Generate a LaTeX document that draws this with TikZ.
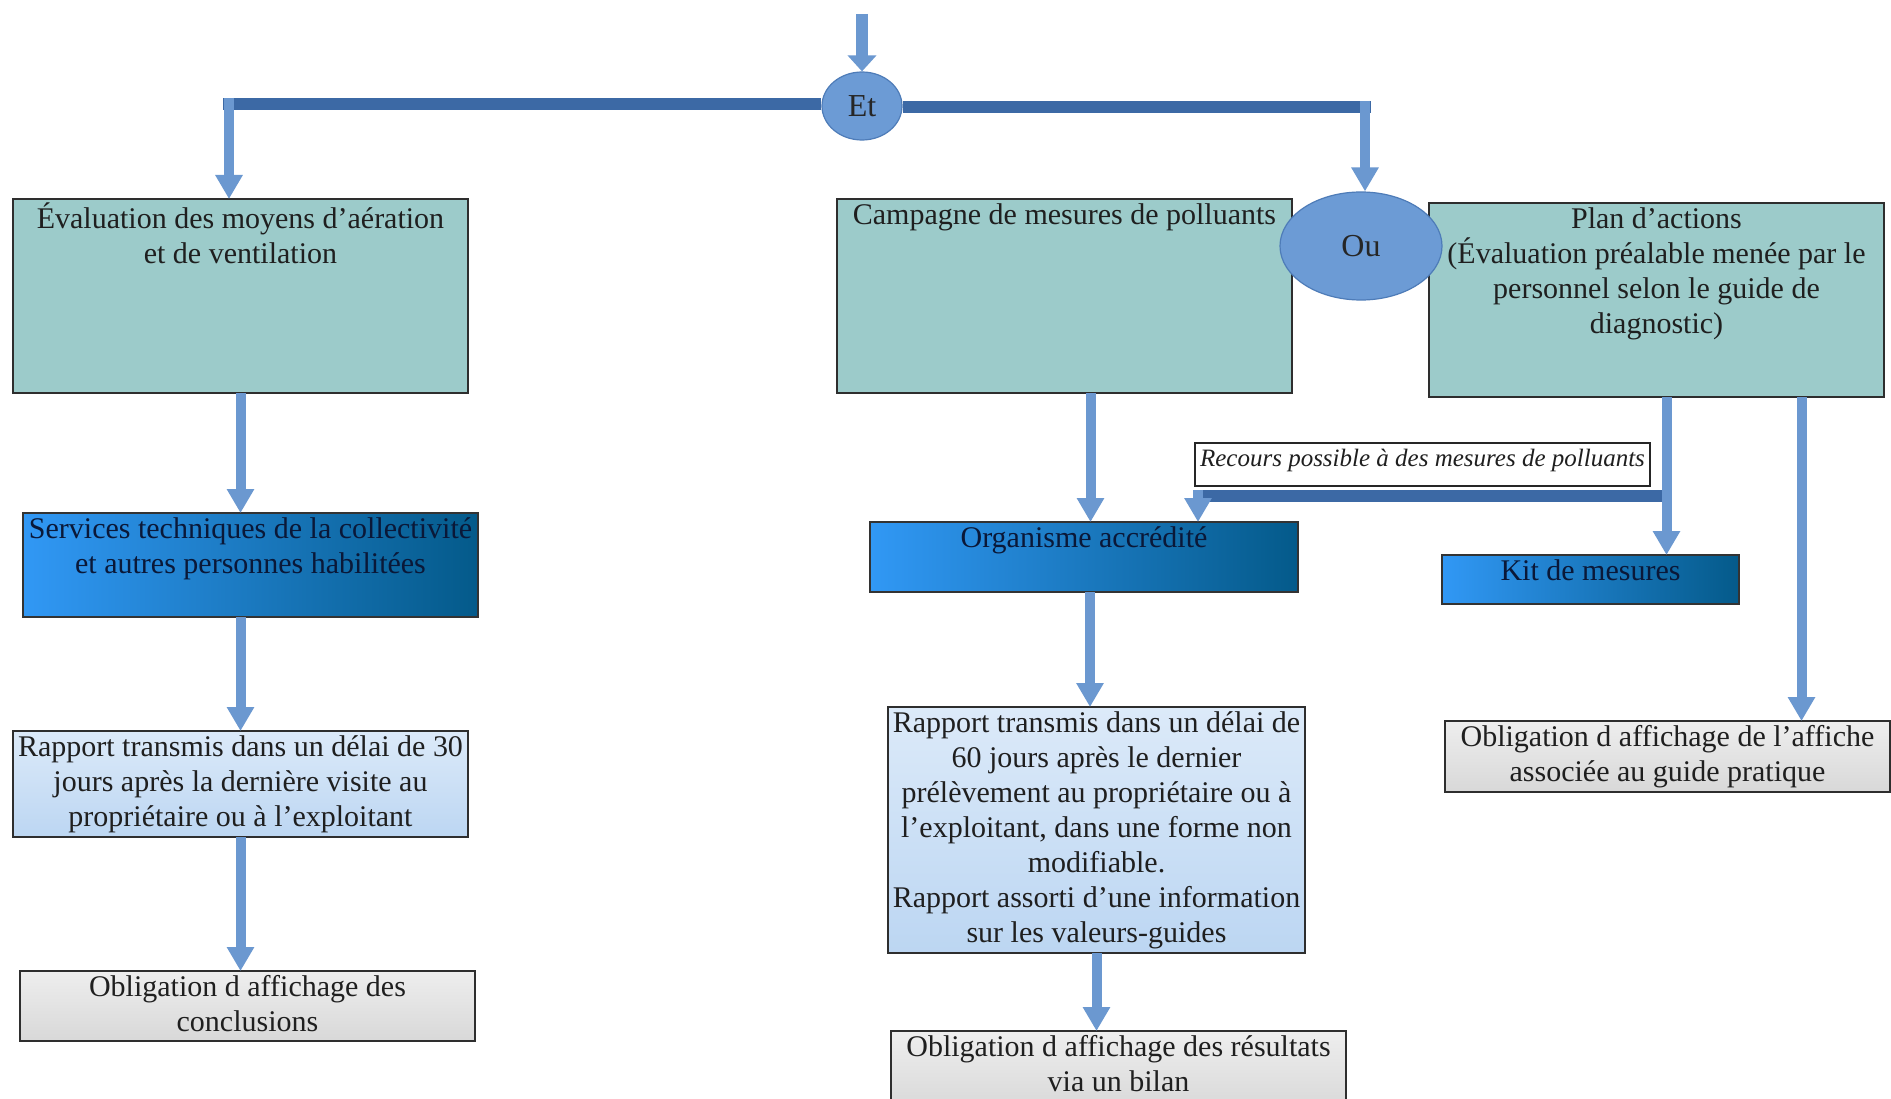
\documentclass[tikz,border=0pt]{standalone}
\usepackage{fontspec}
\setmainfont{Liberation Serif}
\usetikzlibrary{arrows.meta,shapes.geometric,calc}
\definecolor{tealfill}{HTML}{9CCBCA}
\definecolor{framegray}{HTML}{2E2E2E}
\definecolor{blueL}{HTML}{3198F5}
\definecolor{blueR}{HTML}{045A8A}
\definecolor{navy}{HTML}{0A1838}
\definecolor{cloudA}{HTML}{DCEAF9}
\definecolor{cloudB}{HTML}{BCD6F2}
\definecolor{marbleA}{HTML}{EEEEEE}
\definecolor{marbleB}{HTML}{D8D8D8}
\definecolor{ellfill}{HTML}{6C9BD5}
\definecolor{ellborder}{HTML}{4E7CB8}
\definecolor{arrowblue}{HTML}{6B98D0}
\definecolor{lineblue}{HTML}{3C69A5}
\begin{document}
\begin{tikzpicture}[x=1pt,y=-1pt,
  lbl/.style={anchor=north, inner sep=0pt, yshift=-4pt, align=center, font=\fontsize{30}{35}\selectfont, text=black!88},
  frame/.style={draw=framegray, line width=1.5pt, anchor=north west, inner sep=0pt, outer sep=0pt, label distance=0pt},
  tealbox/.style={frame, fill=tealfill},
  bluebox/.style={frame, draw=black!80, left color=blueL, right color=blueR},
  cloudbox/.style={frame, top color=cloudA, bottom color=cloudB},
  greybox/.style={frame, top color=marbleA, bottom color=marbleB},
  joint/.style={ellipse, draw=ellborder, fill=ellfill, line width=1.2pt, inner sep=0pt, font=\fontsize{32}{36}\selectfont, text=black!85},
  varrow/.style={draw=arrowblue, line width=10pt, -{Triangle[length=24pt,width=26pt]}},
  toparrow/.style={draw=arrowblue, line width=12pt, -{Triangle[length=16pt,width=28pt]}},
  hline/.style={draw=lineblue, line width=12pt},
  notebox/.style={draw=black!85, fill=white, line width=1.2pt, anchor=north west, inner sep=0pt, outer sep=0pt, minimum width=455, minimum height=43, label distance=0pt}
]
\useasboundingbox[fill=white] (0,0) rectangle (1891,1099);

% boxes
\node[tealbox, minimum width=455, minimum height=194,
  label={[lbl]north:{Évaluation des moyens d’aération\\et de ventilation}}] (eval) at (13,199) {};
\node[tealbox, minimum width=455, minimum height=194,
  label={[lbl]north:{Campagne de mesures de polluants}}] (camp) at (837,199) {};
\node[tealbox, minimum width=455, minimum height=194,
  label={[lbl]north:{Plan d’actions\\(Évaluation préalable menée par le\\personnel selon le guide de\\diagnostic)}}] (plan) at (1429,203) {};

\node[bluebox, minimum width=455, minimum height=104,
  label={[lbl, text=navy]north:{Services techniques de la collectivité\\et autres personnes habilitées}}] (serv) at (23,513) {};
\node[bluebox, minimum width=428, minimum height=70,
  label={[lbl, text=navy]north:{Organisme accrédité}}] (org) at (870,522) {};
\node[bluebox, minimum width=297, minimum height=49,
  label={[lbl, text=navy]north:{Kit de mesures}}] (kit) at (1442,555) {};

\node[notebox, label={[lbl, font=\fontsize{25}{29}\selectfont\itshape, yshift=-2pt]north:{Recours possible à des mesures de polluants}}] (note) at (1195,443) {};

\node[cloudbox, minimum width=455, minimum height=106,
  label={[lbl]north:{Rapport transmis dans un délai de 30\\jours après la dernière visite au\\propriétaire ou à l’exploitant}}] (r30) at (13,731) {};
\node[cloudbox, minimum width=417, minimum height=246,
  label={[lbl]north:{Rapport transmis dans un délai de\\60 jours après le dernier\\prélèvement au propriétaire ou à\\l’exploitant, dans une forme non\\modifiable.\\Rapport assorti d’une information\\sur les valeurs-guides}}] (r60) at (888,707) {};

\node[greybox, minimum width=455, minimum height=70,
  label={[lbl]north:{Obligation d affichage des\\conclusions}}] (oblc) at (20,971) {};
\node[greybox, minimum width=455, minimum height=80,
  label={[lbl]north:{Obligation d affichage des résultats\\via un bilan}}] (oblr) at (891,1031) {};
\node[greybox, minimum width=445, minimum height=71,
  label={[lbl]north:{Obligation d affichage de l’affiche\\associée au guide pratique}}] (obla) at (1445,721) {};

% junctions
\node[joint, minimum width=80, minimum height=68] (et) at (862,106) {Et};
\node[joint, minimum width=162, minimum height=108] (ou) at (1361,246) {Ou};

% connectors
\coordinate (start) at (862,14);
\coordinate (cL) at (229,104);
\coordinate (cR) at (1365,107);
\draw[hline] (et.west |- cL) -- ([xshift=-6]cL);
\draw[hline] (et.east |- cR) -- ([xshift=6]cR);
\draw[toparrow] (start) -- (et.north);
\draw[varrow] ([yshift=6]cL) -- (cL |- eval.north);
\draw[varrow] ([yshift=6]cR) -- (cR |- ou.north);

\draw[varrow] (eval.south) -- (eval.south |- serv.north);
\draw[varrow] (r30.north |- serv.south) -- (r30.north);
\draw[varrow] (r30.south) -- (r30.south |- oblc.north);

\draw[varrow] ([xshift=26]camp.south) -- ([xshift=26]camp.south |- org.north);
\draw[varrow] ([xshift=6]org.south) -- ([xshift=6]org.south |- r60.north);
\draw[varrow] (r60.south) -- (r60.south |- oblr.north);

\coordinate (j1) at (1667,496);
\coordinate (j2) at (1198,496);
\draw[hline] (j1) -- (j2);
\draw[varrow] ([xshift=10]plan.south) -- ([xshift=10]plan.south |- kit.north);
\draw[varrow] ([yshift=6]j2) -- (j2 |- org.north);
\draw[varrow] ([xshift=145]plan.south) -- ([xshift=145]plan.south |- obla.north);
\end{tikzpicture}
\end{document}
